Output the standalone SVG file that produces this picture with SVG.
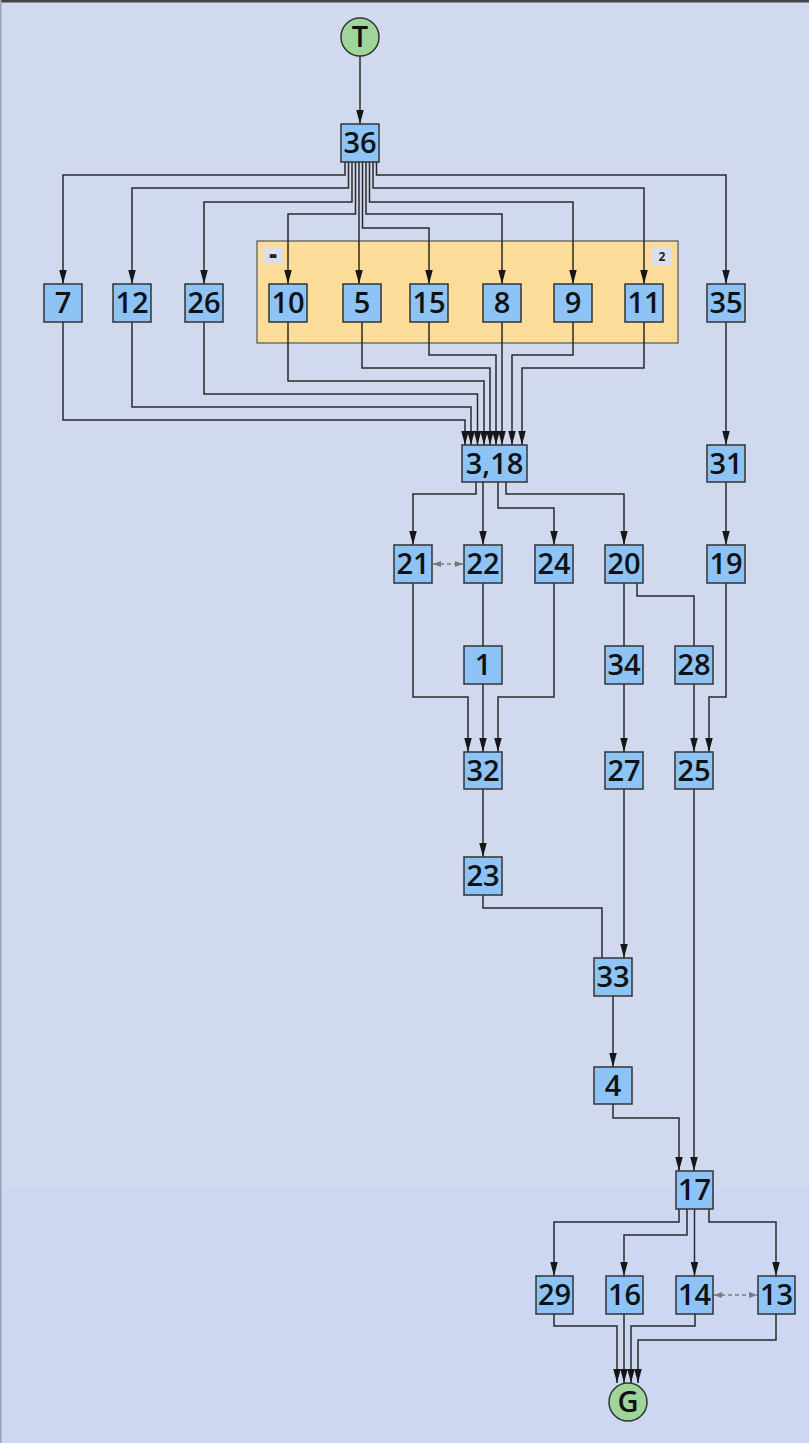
<svg xmlns="http://www.w3.org/2000/svg" width="809" height="1443" viewBox="0 0 809 1443">
<style>
.bg{fill:#d0d9ee}
.n rect{fill:#8dc3f5;stroke:#333;stroke-width:1.5}
.n text,.c text{font-family:"Open Sans","Liberation Sans",sans-serif;font-size:29px;font-weight:600;fill:#111;text-anchor:middle}
.c circle{fill:#9fd59b;stroke:#333;stroke-width:1.5}
.e path{fill:none;stroke:#2a2a2a;stroke-width:1.5}
.e path.a{marker-end:url(#arr)}
.e path.d{stroke:#7a7a7a;stroke-width:1.4;stroke-dasharray:4 3;marker-start:url(#darrs);marker-end:url(#darr)}
.lbl rect{fill:#dcdfe9}
.lbl text{font-family:"Open Sans","Liberation Sans",sans-serif;font-size:12px;font-weight:700;fill:#222;text-anchor:middle}
.lbl text.dash{font-size:24px;font-weight:800}
</style>
<defs>
<marker id="arr" markerUnits="userSpaceOnUse" markerWidth="14" markerHeight="8" refX="14" refY="3.75" orient="auto">
<path d="M0,0 L14,3.75 L0,7.5 z" fill="#161616"/>
</marker>
<marker id="darr" markerUnits="userSpaceOnUse" markerWidth="8" markerHeight="6" refX="8" refY="3" orient="auto">
<path d="M0,0 L8,3 L0,6 z" fill="#7a7a7a"/>
</marker>
<marker id="darrs" markerUnits="userSpaceOnUse" markerWidth="8" markerHeight="6" refX="0" refY="3" orient="auto">
<path d="M8,0 L0,3 L8,6 z" fill="#7a7a7a"/>
</marker>
</defs>
<rect class="bg" x="0" y="0" width="809" height="1443"/>
<rect x="0" y="1187" width="809" height="256" fill="#cdd7f1"/>
<rect x="0" y="0" width="809" height="2.5" fill="#444"/>
<rect x="0" y="0" width="1.5" height="1443" fill="#9aa2b5"/>

<g id="group2">
<rect x="257" y="241" width="421" height="102" fill="#fcdc99" stroke="#555" stroke-width="1.2"/>
<g class="lbl"><rect x="263" y="247" width="20" height="17"/><text class="dash" x="273" y="263">-</text></g>
<g class="lbl"><rect x="652" y="247" width="20" height="19"/><text x="662" y="261">2</text></g>
</g>

<g id="connectors" class="e">
<path class="a" d="M360,56 V124"/>
<path class="a" d="M345,162 V175 H63 V284"/>
<path class="a" d="M348.5,162 V188 H132 V284"/>
<path class="a" d="M352,162 V202 H204 V284"/>
<path class="a" d="M355.5,162 V214 H288 V284"/>
<path class="a" d="M359,162 V284"/>
<path class="a" d="M362.5,162 V228 H429 V284"/>
<path class="a" d="M366,162 V214 H502 V284"/>
<path class="a" d="M369.5,162 V202 H573 V284"/>
<path class="a" d="M373,162 V188 H644 V284"/>
<path class="a" d="M376.5,162 V175 H726 V284"/>
<path class="a" d="M63,322 V420 H465 V445"/>
<path class="a" d="M132,322 V407 H471 V445"/>
<path class="a" d="M204,322 V394 H477.5 V445"/>
<path class="a" d="M288,322 V381 H484 V445"/>
<path class="a" d="M362,322 V368 H490 V445"/>
<path class="a" d="M429,322 V355 H496 V445"/>
<path class="a" d="M502,322 V445"/>
<path class="a" d="M573,322 V355 H512 V445"/>
<path class="a" d="M644,322 V368 H522 V445"/>
<path class="a" d="M726,322 V445"/>
<path class="a" d="M726,482 V545"/>
<path class="a" d="M476,482 V494 H413 V545"/>
<path class="a" d="M483,482 V545"/>
<path class="a" d="M498,482 V508 H554 V545"/>
<path class="a" d="M506,482 V494 H624 V545"/>
<path class="d" d="M433,564 H463"/>
<path d="M483,583 V646"/>
<path d="M624,583 V646"/>
<path d="M637,583 V596 H694 V646"/>
<path class="a" d="M726,583 V697 H709 V752"/>
<path class="a" d="M413,583 V697 H468 V752"/>
<path class="a" d="M554,583 V697 H498 V752"/>
<path class="a" d="M483,684 V752"/>
<path class="a" d="M624,684 V752"/>
<path class="a" d="M694,684 V752"/>
<path class="a" d="M483,789 V857"/>
<path d="M483,895 V908 H602 V958"/>
<path class="a" d="M624,789 V958"/>
<path class="a" d="M613,996 V1067"/>
<path class="a" d="M613,1104 V1118 H679 V1171"/>
<path class="a" d="M694,789 V1171"/>
<path class="a" d="M679,1209 V1222 H554 V1276"/>
<path class="a" d="M687,1209 V1235 H624 V1276"/>
<path class="a" d="M694.5,1209 V1276"/>
<path class="a" d="M709,1209 V1222 H776 V1276"/>
<path class="d" d="M714,1295 H757"/>
<path class="a" d="M554,1314 V1326 H617 V1383"/>
<path class="a" d="M624,1314 V1383"/>
<path class="a" d="M695,1314 V1326 H631 V1383"/>
<path class="a" d="M776,1314 V1340 H638 V1383"/>
</g>

<g id="T" class="c"><circle cx="360" cy="37" r="19"/><text x="360" y="47">T</text></g>
<g id="G" class="c"><circle cx="628" cy="1402" r="19"/><text x="628" y="1412">G</text></g>

<g id="n36" class="n"><rect x="341" y="124" width="38" height="38"/><text x="360" y="153">36</text></g>
<g id="n7" class="n"><rect x="44" y="284" width="38" height="38"/><text x="63" y="313">7</text></g>
<g id="n12" class="n"><rect x="113" y="284" width="38" height="38"/><text x="132" y="313">12</text></g>
<g id="n26" class="n"><rect x="185" y="284" width="38" height="38"/><text x="204" y="313">26</text></g>
<g id="n10" class="n"><rect x="269" y="284" width="38" height="38"/><text x="288" y="313">10</text></g>
<g id="n5" class="n"><rect x="343" y="284" width="38" height="38"/><text x="362" y="313">5</text></g>
<g id="n15" class="n"><rect x="410" y="284" width="38" height="38"/><text x="429" y="313">15</text></g>
<g id="n8" class="n"><rect x="483" y="284" width="38" height="38"/><text x="502" y="313">8</text></g>
<g id="n9" class="n"><rect x="554" y="284" width="38" height="38"/><text x="573" y="313">9</text></g>
<g id="n11" class="n"><rect x="625" y="284" width="38" height="38"/><text x="644" y="313">11</text></g>
<g id="n35" class="n"><rect x="707" y="284" width="38" height="38"/><text x="726" y="313">35</text></g>
<g id="n3_18" class="n"><rect x="462" y="445" width="65" height="37"/><text x="494.5" y="474">3,18</text></g>
<g id="n31" class="n"><rect x="707" y="445" width="38" height="37"/><text x="726" y="474">31</text></g>
<g id="n21" class="n"><rect x="394" y="545" width="38" height="38"/><text x="413" y="574">21</text></g>
<g id="n22" class="n"><rect x="464" y="545" width="38" height="38"/><text x="483" y="574">22</text></g>
<g id="n24" class="n"><rect x="535" y="545" width="38" height="38"/><text x="554" y="574">24</text></g>
<g id="n20" class="n"><rect x="605" y="545" width="38" height="38"/><text x="624" y="574">20</text></g>
<g id="n19" class="n"><rect x="707" y="545" width="38" height="38"/><text x="726" y="574">19</text></g>
<g id="n1" class="n"><rect x="464" y="646" width="38" height="38"/><text x="483" y="675">1</text></g>
<g id="n34" class="n"><rect x="605" y="646" width="38" height="38"/><text x="624" y="675">34</text></g>
<g id="n28" class="n"><rect x="675" y="646" width="38" height="38"/><text x="694" y="675">28</text></g>
<g id="n32" class="n"><rect x="464" y="752" width="38" height="37"/><text x="483" y="781">32</text></g>
<g id="n27" class="n"><rect x="605" y="752" width="38" height="37"/><text x="624" y="781">27</text></g>
<g id="n25" class="n"><rect x="675" y="752" width="38" height="37"/><text x="694" y="781">25</text></g>
<g id="n23" class="n"><rect x="464" y="857" width="38" height="38"/><text x="483" y="886">23</text></g>
<g id="n33" class="n"><rect x="594" y="958" width="38" height="38"/><text x="613" y="987">33</text></g>
<g id="n4" class="n"><rect x="594" y="1067" width="38" height="37"/><text x="613" y="1096">4</text></g>
<g id="n17" class="n"><rect x="676" y="1171" width="37" height="38"/><text x="694.5" y="1200">17</text></g>
<g id="n29" class="n"><rect x="536" y="1276" width="37" height="38"/><text x="554.5" y="1305">29</text></g>
<g id="n16" class="n"><rect x="606" y="1276" width="37" height="38"/><text x="624.5" y="1305">16</text></g>
<g id="n14" class="n"><rect x="676" y="1276" width="37" height="38"/><text x="694.5" y="1305">14</text></g>
<g id="n13" class="n"><rect x="758" y="1276" width="37" height="38"/><text x="776.5" y="1305">13</text></g>
</svg>
